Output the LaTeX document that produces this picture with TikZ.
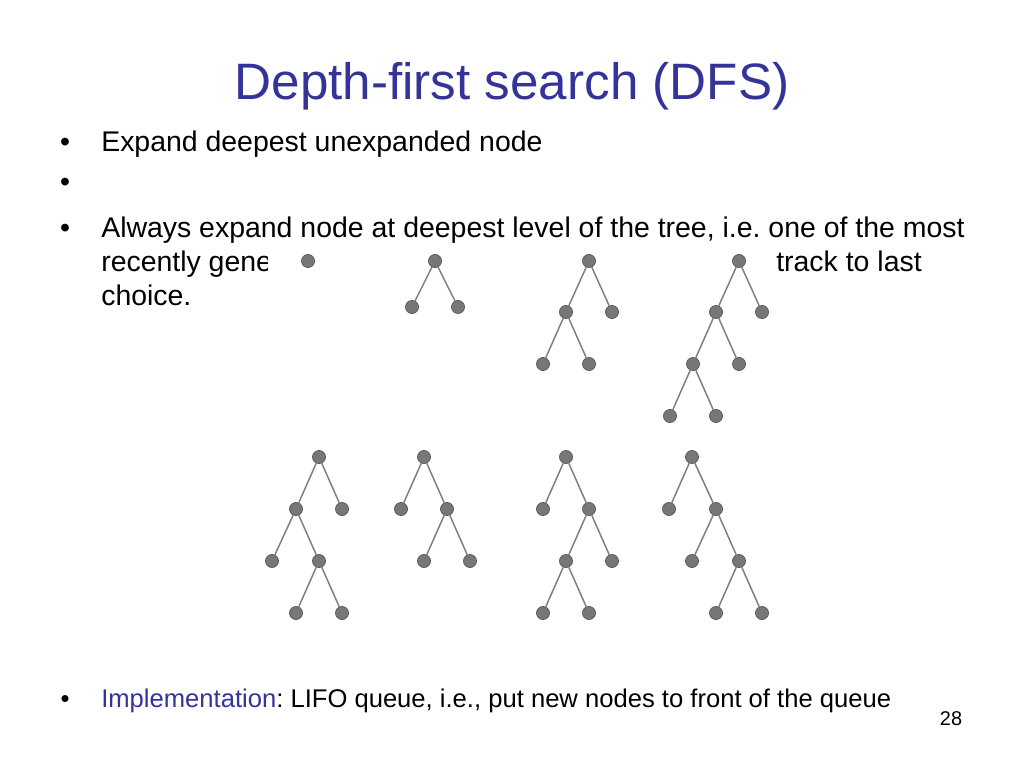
\documentclass[tikz,border=0pt]{standalone}
\usepackage{fontspec}
\setmainfont{Liberation Sans}
\frenchspacing
\definecolor{titleblue}{HTML}{333399}
\definecolor{nodefill}{HTML}{777777}
\definecolor{nodeline}{HTML}{5A5A5A}
\definecolor{edgecol}{HTML}{808080}
\begin{document}
\begin{tikzpicture}[x=0.703125pt,y=-0.703125pt,
  txt/.style={anchor=base west,inner sep=0pt,font=\fontsize{20}{24}\selectfont},
  bul/.style={anchor=base,inner sep=0pt,font=\fontsize{20}{24}\selectfont},
  tn/.style={circle,fill=nodefill,draw=nodeline,line width=0.5pt,inner sep=0pt,minimum size=9.2pt},
  te/.style={draw=edgecol,line width=1.05pt}]
\fill[white] (0,0) rectangle (1024,768);
\useasboundingbox (0,0) rectangle (1024,768);
% title
\node[anchor=base,inner sep=0pt,text=titleblue,font=\fontsize{36}{40}\selectfont] (title) at (512,100) {Depth-first search (DFS)};
% bullets
\node[bul] (b1) at (65,152) {•};
\node[txt] (l1) at (101,152) {Expand deepest unexpanded node};
\node[bul] (b2) at (65,192) {•};
\node[bul] (b3) at (65,238) {•};
\node[txt] (l3) at (101,238) {Always expand node at deepest level of the tree, i.e. one of the most};
\node[txt] (l4a) at (101,272) {recently gene};
\node[txt] (l4b) at (776,272) {track to last};
\node[txt] (l5) at (101,306) {choice.};
\node[bul,font=\fontsize{18}{22}\selectfont] (b4) at (65,707) {•};
\node[txt,font=\fontsize{18}{22}\selectfont] (l6) at (101,707) {\textcolor{titleblue}{Implementation}: LIFO queue, i.e., put new nodes to front of the queue};
\node[anchor=base,inner sep=0pt,font=\fontsize{14}{16}\selectfont] (pg) at (951,725) {28};
% white background of the tree picture
\fill[white] (268,249) rectangle (772,420);
% tree 1
\node[tn] (a1) at (308,261) {};
% tree 2
\node[tn] (b1r) at (435,261) {};
\node[tn] (b1l) at (412,307) {};
\node[tn] (b1rr) at (458,307) {};
\draw[te] (b1r) -- (b1l) (b1r) -- (b1rr);
% tree 3
\node[tn] (c0) at (589,261) {};
\node[tn] (c1) at (566,312) {};
\node[tn] (c2) at (612,312) {};
\node[tn] (c3) at (543,364) {};
\node[tn] (c4) at (589,364) {};
\draw[te] (c0) -- (c1) (c0) -- (c2) (c1) -- (c3) (c1) -- (c4);
% tree 4
\node[tn] (d0) at (739,261) {};
\node[tn] (d1) at (716,312) {};
\node[tn] (d2) at (762,312) {};
\node[tn] (d3) at (693,364) {};
\node[tn] (d4) at (739,364) {};
\node[tn] (d5) at (670,416) {};
\node[tn] (d6) at (716,416) {};
\draw[te] (d0) -- (d1) (d0) -- (d2) (d1) -- (d3) (d1) -- (d4) (d3) -- (d5) (d3) -- (d6);
% tree 5
\node[tn] (e0) at (319,457) {};
\node[tn] (e1) at (296,509) {};
\node[tn] (e2) at (342,509) {};
\node[tn] (e3) at (272,561) {};
\node[tn] (e4) at (319,561) {};
\node[tn] (e5) at (296,613) {};
\node[tn] (e6) at (342,613) {};
\draw[te] (e0) -- (e1) (e0) -- (e2) (e1) -- (e3) (e1) -- (e4) (e4) -- (e5) (e4) -- (e6);
% tree 6
\node[tn] (f0) at (424,457) {};
\node[tn] (f1) at (401,509) {};
\node[tn] (f2) at (447,509) {};
\node[tn] (f3) at (424,561) {};
\node[tn] (f4) at (470,561) {};
\draw[te] (f0) -- (f1) (f0) -- (f2) (f2) -- (f3) (f2) -- (f4);
% tree 7
\node[tn] (g0) at (566,457) {};
\node[tn] (g1) at (543,509) {};
\node[tn] (g2) at (589,509) {};
\node[tn] (g3) at (566,561) {};
\node[tn] (g4) at (612,561) {};
\node[tn] (g5) at (543,613) {};
\node[tn] (g6) at (589,613) {};
\draw[te] (g0) -- (g1) (g0) -- (g2) (g2) -- (g3) (g2) -- (g4) (g3) -- (g5) (g3) -- (g6);
% tree 8
\node[tn] (h0) at (692,457) {};
\node[tn] (h1) at (669,509) {};
\node[tn] (h2) at (716,509) {};
\node[tn] (h3) at (692,561) {};
\node[tn] (h4) at (739,561) {};
\node[tn] (h5) at (716,613) {};
\node[tn] (h6) at (762,613) {};
\draw[te] (h0) -- (h1) (h0) -- (h2) (h2) -- (h3) (h2) -- (h4) (h4) -- (h5) (h4) -- (h6);
\end{tikzpicture}
\end{document}
